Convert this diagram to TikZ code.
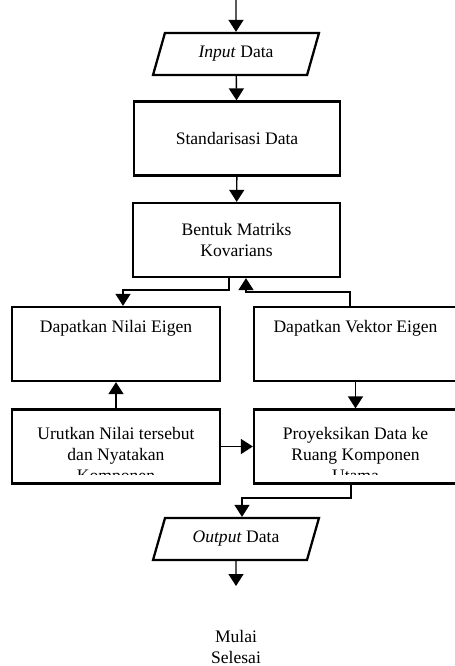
\documentclass[tikz,border=0pt]{standalone}
\usepackage{fontspec}
\setmainfont{Liberation Serif}
\usetikzlibrary{arrows.meta,shapes.geometric}
\begin{document}
\begin{tikzpicture}[x=0.02cm,y=-0.02cm,
  font=\fontsize{10}{12}\selectfont,
  arr/.style={-{Triangle[length=0.24cm,width=0.3cm]},line width=0.8pt},
  box/.style={draw,line width=1.3pt,inner sep=0,minimum height=1.48cm},
  io/.style={draw,line width=1.3pt,trapezium,trapezium left angle=52,
    trapezium right angle=128,trapezium stretches body,
    minimum width=3.32cm,minimum height=0.84cm,inner sep=0},
  txt/.style={align=center,inner sep=0}]
\useasboundingbox (0,0) rectangle (455,666);
\coordinate (start) at (236,0);
\node[io] (inp) at (236,54) {\textit{Input} Data};
\node[box,minimum width=4.12cm] (std) at (237,138.5) {Standarisasi Data};
\node[box,minimum width=4.14cm,txt] (bk) at (236.5,240) {Bentuk Matriks\\Kovarians};
\node[box,minimum width=4.16cm] (nilai) at (116,344) {};
\node[box,minimum width=4.06cm] (vektor) at (355.5,344) {};
\node[txt] (nilaiT) at (116,328) {Dapatkan Nilai Eigen};
\node[txt] (vektorT) at (355.5,328) {Dapatkan Vektor Eigen};
\node[box,minimum width=4.16cm] (urut) at (116,446.5) {};
\node[box,minimum width=4.06cm] (proy) at (355.5,446.5) {};
\begin{scope}
\clip (12,410) rectangle (455,474.5);
\node[txt,anchor=north] (urutT) at (116,427) {Urutkan Nilai tersebut\\dan Nyatakan\\Komponen};
\node[txt,anchor=north] (proyT) at (355.5,427) {Proyeksikan Data ke\\Ruang Komponen\\Utama};
\end{scope}
\node[io] (out) at (236,539) {\textit{Output} Data};
\coordinate (end) at (236,586);
\node[txt,anchor=south] (akhir) at (236,664) {Mulai\\Selesai};
% connectors
\draw[arr] (start) -- (inp.north);
\draw[arr] (inp) -- (std);
\draw[arr] (std) -- (bk);
\draw[arr] ([xshift=-0.15cm]bk.south) |- ([xshift=0.14cm,yshift=0.32cm]nilai.north) -- ([xshift=0.14cm]nilai.north);
\draw[arr] ([xshift=-0.11cm]vektor.north) |- ([xshift=0.19cm,yshift=-0.28cm]bk.south) -- ([xshift=0.19cm]bk.south);
\draw[arr] (urut) -- (nilai);
\draw[arr] (vektor) -- (proy);
\draw[arr] (urut) -- (proy);
\draw[arr] ([xshift=-0.09cm]proy.south) |- ([xshift=0.12cm,yshift=0.38cm]out.north) -- ([xshift=0.12cm]out.north);
\draw[arr] (out) -- (end);
\end{tikzpicture}
\end{document}
